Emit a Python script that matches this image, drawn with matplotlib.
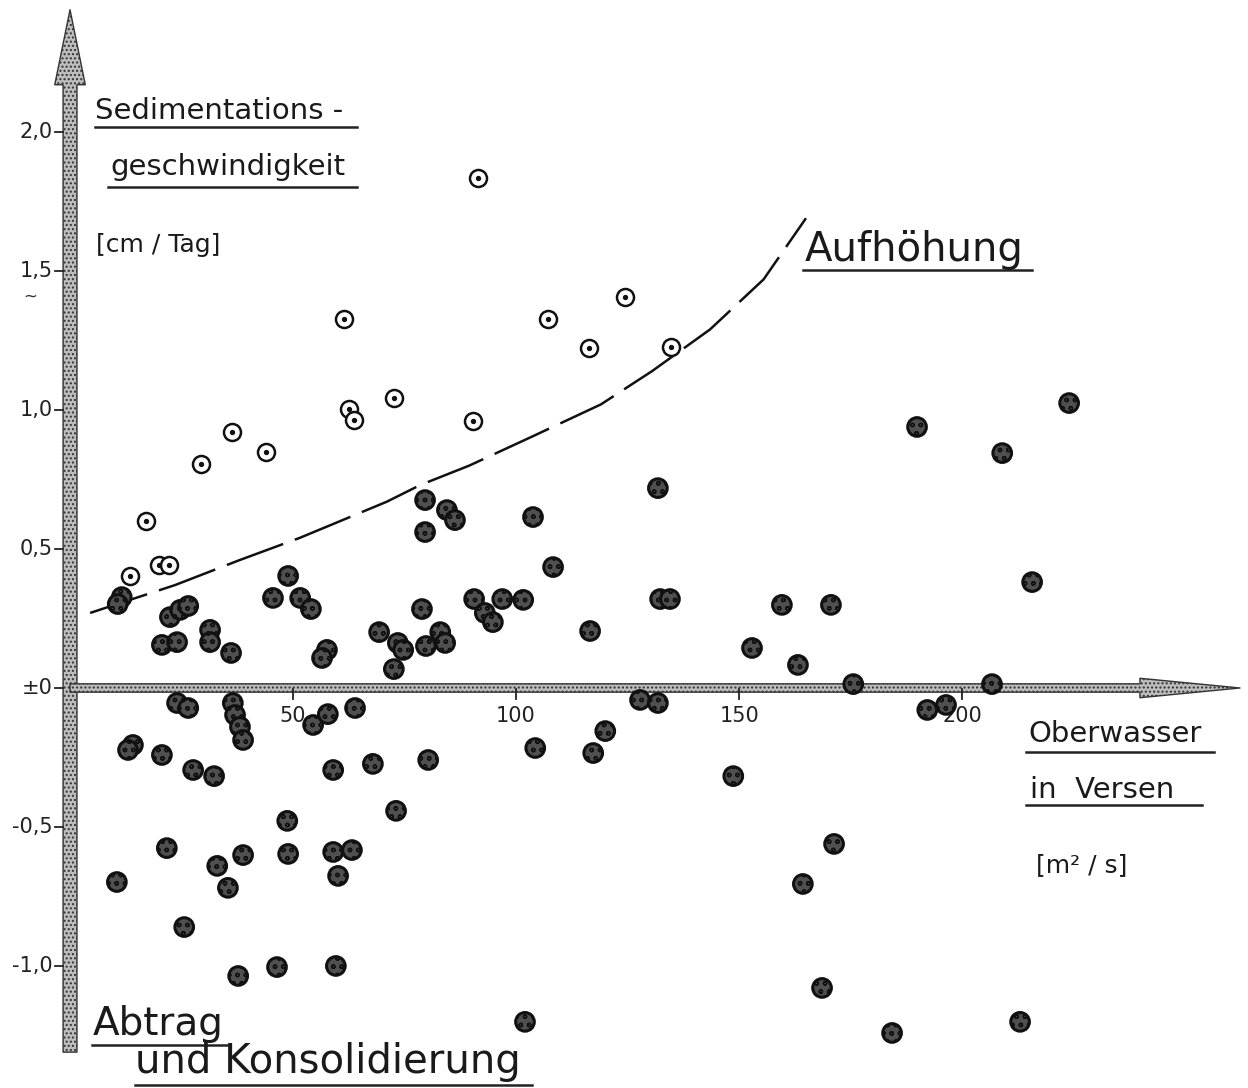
import numpy as np
import matplotlib
matplotlib.use("Agg")
import matplotlib.pyplot as plt
from matplotlib.lines import Line2D

# discharge [m3/s] and sedimentation rate [cm/day]
# open circles: deposition above the limiting curve
open_x = [91.5, 61.4, 107.2, 116.4, 124.4, 134.8, 72.6, 62.6, 63.7, 90.4,
          36.3, 43.9, 29.4, 17.0, 13.5, 20.0, 22.2]
open_y = [1.835, 1.327, 1.327, 1.223, 1.406, 1.227, 1.043, 1.004, 0.964, 0.960,
          0.921, 0.849, 0.806, 0.600, 0.403, 0.442, 0.442]

# stippled circles above the zero line
fill_up_x = [79.6, 84.5, 86.3, 79.6, 48.9, 45.5, 51.6, 54.0, 78.9, 69.3,
             73.5, 74.7, 79.8, 83.0, 84.1, 72.6, 57.6, 56.5, 36.1, 31.4,
             31.4, 20.6, 24.0, 22.4, 24.7, 26.5, 11.6, 10.7, 103.8, 108.3,
             131.8, 90.6, 93.0, 94.8, 96.9, 101.6, 116.6, 132.3, 134.5, 152.9,
             159.6, 163.2, 170.6, 175.6, 206.7, 189.9, 209.0, 224.0, 215.7]
fill_up_y = [0.676, 0.640, 0.604, 0.561, 0.403, 0.324, 0.324, 0.284, 0.284, 0.201,
             0.162, 0.137, 0.151, 0.201, 0.162, 0.068, 0.137, 0.108, 0.126, 0.209,
             0.165, 0.155, 0.165, 0.255, 0.281, 0.295, 0.327, 0.302, 0.615, 0.435,
             0.719, 0.320, 0.270, 0.237, 0.320, 0.317, 0.205, 0.320, 0.320, 0.144,
             0.299, 0.083, 0.299, 0.014, 0.014, 0.939, 0.845, 1.025, 0.381]

# erosion / consolidation below the zero line
fill_dn_x = [24.0, 26.5, 36.5, 37.0, 38.1, 38.8, 54.5, 57.8, 63.9, 14.1,
             13.0, 20.6, 27.6, 32.3, 59.0, 67.9, 80.3, 73.1, 48.7, 21.7,
             38.8, 48.9, 59.0, 63.2, 60.1, 33.0, 35.4, 10.5, 25.6, 37.7,
             46.4, 59.6, 127.8, 131.8, 120.0, 104.3, 117.3, 148.7, 171.3, 164.3,
             168.6, 102.0, 192.2, 196.4, 184.3, 213.0]
fill_dn_y = [-0.054, -0.072, -0.054, -0.097, -0.140, -0.187, -0.133, -0.094, -0.072, -0.205,
             -0.223, -0.241, -0.295, -0.317, -0.295, -0.273, -0.259, -0.442, -0.478, -0.576,
             -0.601, -0.597, -0.590, -0.583, -0.676, -0.640, -0.719, -0.698, -0.860, -1.036,
             -1.004, -1.000, -0.043, -0.054, -0.155, -0.216, -0.234, -0.317, -0.561, -0.705,
             -1.079, -1.201, -0.079, -0.061, -1.241, -1.201]

# limiting curve between deposition and erosion
curve_x = [4.5, 23.5, 38.0, 51.5, 71.0, 78.5, 89.5, 103.0, 119.0, 130.5, 143.5, 155.5, 165.0]
curve_y = [0.27, 0.37, 0.46, 0.54, 0.67, 0.73, 0.80, 0.90, 1.02, 1.14, 1.29, 1.47, 1.69]

y_ticks = [2.0, 1.5, 1.0, 0.5, 0.0, -0.5, -1.0]
y_tick_labels = ["2,0", "1,5", "1,0", "0,5", "±0", "-0,5", "-1,0"]
x_ticks = [50, 100, 150, 200]

W, H = 1248, 1088


def fpos(x, y):
    # pixel position -> figure fraction
    return x / W, 1 - y / H


fig = plt.figure(figsize=(W / 100, H / 100), dpi=100)
ax = fig.add_axes([0, 0, 1, 1])
ax.set_xlim(-15.7, 264.1)
ax.set_ylim(-1.439, 2.475)
ax.axis("off")

# axes drawn as stippled arrows
axis_style = dict(fc="#bdbdbd", ec="#333333", lw=1.0, hatch="....")
ax.annotate("", xy=(0, 2.44), xytext=(0, -1.31),
            arrowprops=dict(arrowstyle="simple,head_length=54,head_width=22,tail_width=10",
                            mutation_scale=1, shrinkA=0, shrinkB=0, **axis_style),
            zorder=2)
ax.annotate("", xy=(262.3, 0), xytext=(0, 0),
            arrowprops=dict(arrowstyle="simple,head_length=72,head_width=14,tail_width=6",
                            mutation_scale=1, shrinkA=0, shrinkB=0, **axis_style),
            zorder=2)

# y ticks: short dashes left of the axis with comma decimals
for v, lab in zip(y_ticks, y_tick_labels):
    ax.plot([-3.4, -1.5], [v, v], color="#222", lw=1.3, zorder=3)
    ax.text(-3.9, v, lab, ha="right", va="center", fontsize=15, color="#222")
ax.text(-9.0, 1.5 - 0.09, "~", ha="center", va="center", fontsize=12, color="#333")

# x ticks below the axis
for v in x_ticks:
    ax.plot([v, v], [-0.005, -0.04], color="#222", lw=1.3, zorder=3)
    ax.text(v, -0.065, str(v), ha="center", va="top", fontsize=15, color="#222")

# limiting curve
ax.plot(curve_x, curve_y, color="#111", lw=1.8, linestyle=(0, (24, 5)),
        solid_capstyle="butt", zorder=3)

# data points
ax.scatter(open_x, open_y, s=150, facecolors="white", edgecolors="#111",
           linewidths=1.8, zorder=4)
ax.scatter(open_x, open_y, s=8, color="#111", zorder=5)
fill_x = fill_up_x + fill_dn_x
fill_y = fill_up_y + fill_dn_y
with plt.rc_context({"hatch.color": "#d8d8d8", "hatch.linewidth": 1.0}):
    ax.scatter(fill_x, fill_y, s=180, facecolors="#505050", edgecolors="#111",
               linewidths=2.2, hatch="oo", zorder=4)

# labels, each underlined
labels = [
    ("Sedimentations -", 95, 119, 21, (95, 357, 127)),
    ("geschwindigkeit", 110, 175, 21, (108, 357, 187)),
    ("[cm / Tag]", 96, 252, 18, None),
    ("Aufhöhung", 805, 261, 29, (803, 1032, 270)),
    ("Oberwasser", 1028, 742, 21, (1026, 1214, 752)),
    ("in  Versen", 1030, 798, 21, (1026, 1202, 805)),
    ("[m² / s]", 1036, 872, 18, None),
    ("Abtrag", 93, 1035, 28, (92, 228, 1045)),
    ("und Konsolidierung", 135, 1073, 29, (135, 532, 1085)),
]
for text, x, y, size, under in labels:
    fig.text(*fpos(x, y), text, ha="left", va="baseline", fontsize=size,
             color="#1a1a1a", fontfamily="DejaVu Sans")
    if under:
        x0, x1, yu = under
        a, b = fpos(x0, yu)
        c, _ = fpos(x1, yu)
        fig.add_artist(Line2D([a, c], [b, b], color="#222", lw=1.8))

fig.savefig("out.png", dpi=100, facecolor="white")
